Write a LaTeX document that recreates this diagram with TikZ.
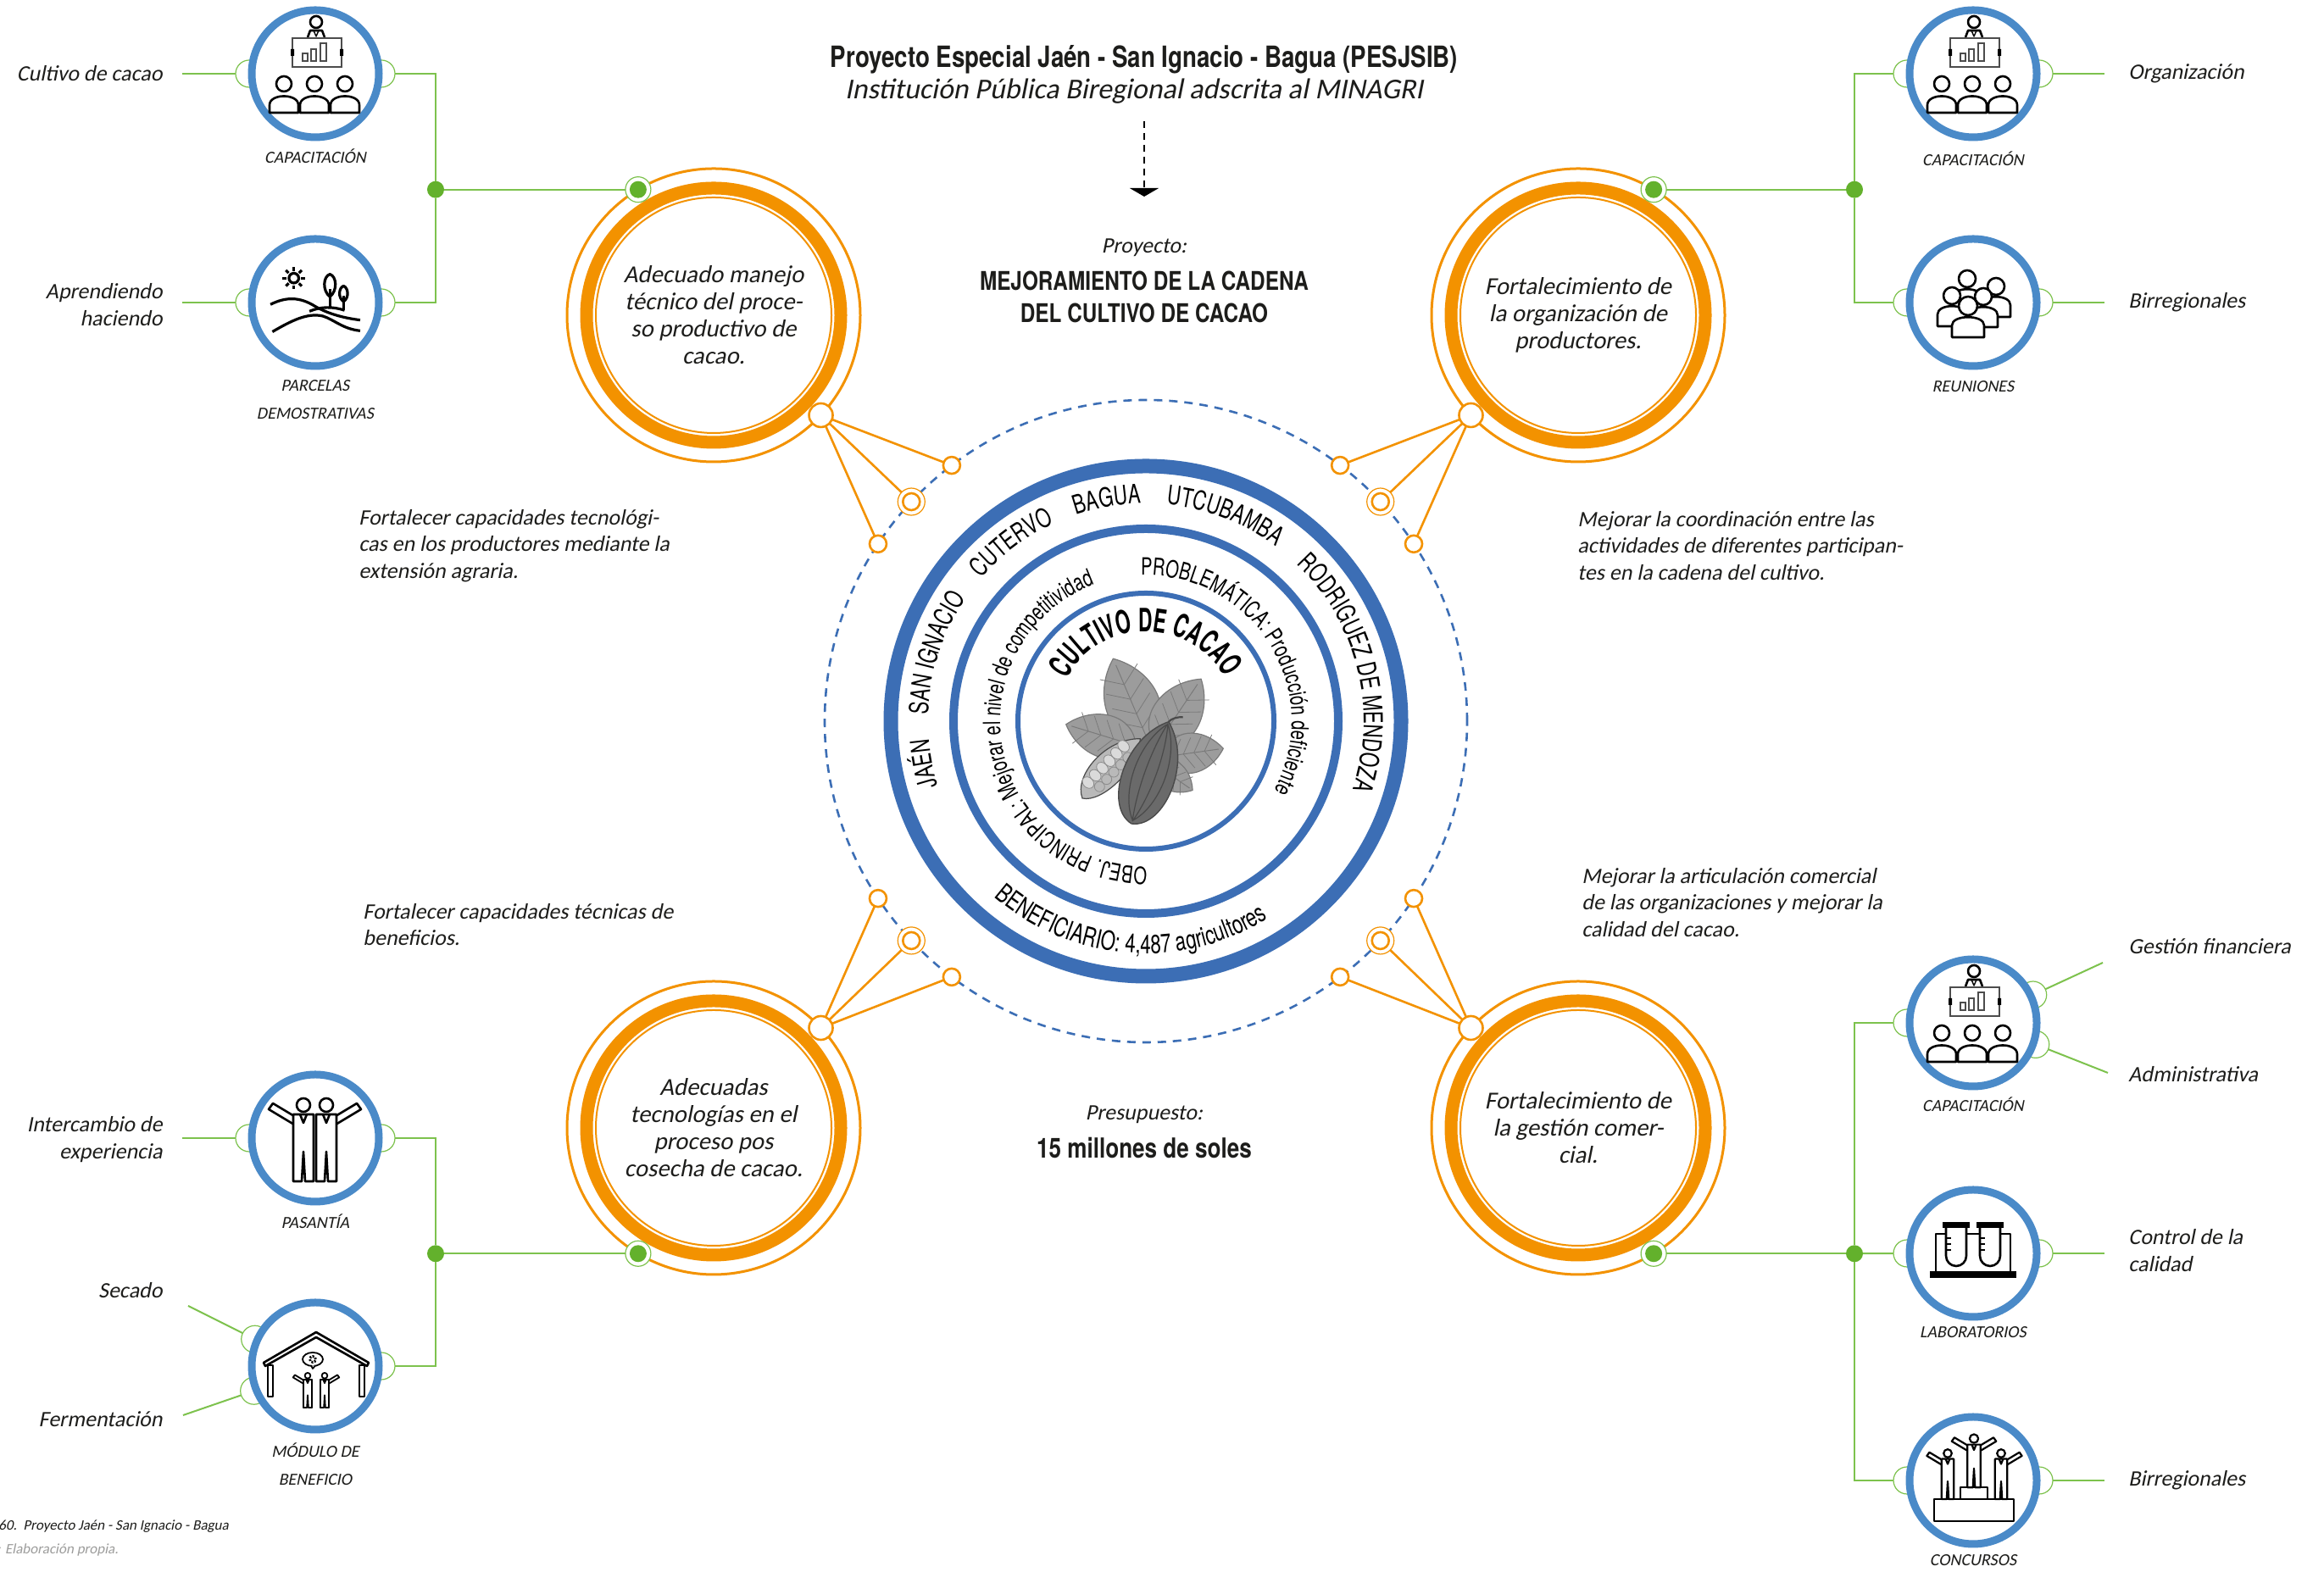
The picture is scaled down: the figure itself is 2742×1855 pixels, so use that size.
\documentclass[tikz,border=0pt]{standalone}
\usepackage{fontspec}
\setmainfont{Carlito}
\newfontfamily\slf[FakeSlant=0.2]{Carlito}
\newfontfamily\hcn[FakeStretch=0.8]{TeX Gyre Heros}
\newfontfamily\hcnc[FakeStretch=0.72]{TeX Gyre Heros}
\newfontfamily\hcnx[FakeStretch=0.6]{TeX Gyre Heros}
\usetikzlibrary{calc,decorations.text,arrows.meta}

\definecolor{orangec}{HTML}{F39200}
\definecolor{iblue}{HTML}{4A8AC8}
\definecolor{cblue}{HTML}{3C6EB5}
\definecolor{gdark}{HTML}{63B12C}
\definecolor{glight}{HTML}{7DC24D}
\definecolor{txt}{HTML}{1D1D1B}
\definecolor{srcgray}{HTML}{9D9D9C}
\definecolor{leafg}{HTML}{9C9C9C}
\definecolor{leafd}{HTML}{7A7A7A}
\definecolor{podl}{HTML}{B9B9B9}
\definecolor{bean}{HTML}{DADADA}
\definecolor{podc}{HTML}{6A6A6A}
\definecolor{podcd}{HTML}{4A4A4A}

\newcommand\iconlw{1.3pt}
\newcommand\cityf{\fontsize{15.5}{15.5}\hcnc}
\newcommand\innerf{\fontsize{14}{14}\hcnc}
\newcommand\cacaof{\fontsize{19}{19}\hcnx\bfseries}

\tikzset{
 iconln/.style={draw=black, line width=\iconlw, line join=round},
 icon/.style={circle, draw=iblue, line width=4.5pt, fill=white, minimum size=75pt, inner sep=0pt, outer sep=0pt},
 port/.style={circle, draw=glight, line width=0.6pt, minimum size=16pt, inner sep=0pt, outer sep=0pt},
 gline/.style={draw=glight, line width=1pt},
 jdot/.style={circle, fill=gdark, minimum size=10pt, inner sep=0pt, outer sep=0pt},
 gdot/.style={circle, draw=glight, line width=0.6pt, fill=white, minimum size=15pt, inner sep=0pt, outer sep=0pt},
 orng/.style={circle, draw=orangec, line width=1.5pt, minimum size=173pt, inner sep=0pt, outer sep=0pt, align=center, text=txt, font=\fontsize{14.4}{16}\slf},
 ocon/.style={circle, draw=orangec, line width=1.3pt, fill=white, minimum size=14pt, inner sep=0pt, outer sep=0pt},
 osm/.style={circle, draw=orangec, line width=1.3pt, fill=white, minimum size=10pt, inner sep=0pt, outer sep=0pt},
 osmd/.style={circle, draw=orangec, line width=0.6pt, fill=white, minimum size=16pt, inner sep=0pt, outer sep=0pt},
 oline/.style={draw=orangec, line width=1.3pt},
 lbl/.style={text=txt, inner sep=0pt, font=\fontsize{13}{16}\slf},
 desc/.style={text=txt, inner sep=0pt, anchor=west, align=left, font=\fontsize{13}{15.75}\slf},
 ilbl/.style={text=txt, inner sep=0pt, align=center, font=\fontsize{10}{16.5}\slf},
 citytext/.style={decorate, decoration={text along path, text align=center, text={|\cityf|#1}}},
}

% presenter with board and audience
\newcommand\iconcap{%
 \draw[iconln, fill=white] (1,61) circle (7);
 \draw[iconln] (-9,43) -- (-6,51) -- (8,51) -- (11,43);
 \draw[iconln, line width=0.7pt] (-2,51) -- (1,44) -- (4,51);
 \draw[draw=black!70, line width=1.1pt, fill=white] (-27,8) rectangle (31,42);
 \fill[black] (-29,21) rectangle (-25,29) (29,21) rectangle (33,29);
 \draw[draw=black!70, line width=0.9pt] (-15,15) rectangle (-9,24) (-5,15) rectangle (1,29) (6,15) rectangle (13,36);
 \foreach \x in {-37,-1,35}{%
  \draw[iconln, fill=white] (\x-17,-46) -- (\x-17,-37) .. controls (\x-17,-23) and (\x+17,-23) .. (\x+17,-37) -- (\x+17,-46) -- cycle;
  \draw[iconln, fill=white] (\x,-12) circle (9);}%
}
% sun, trees and hills
\newcommand\iconparc{%
 \draw[iconln] (-22,25) circle (5);
 \foreach \a in {0,45,...,315}{\draw[iconln] ($(-22,25)+(\a:7.5)$) -- ($(-22,25)+(\a:11.5)$);}
 \draw[iconln, fill=white] (15,6) .. controls (7,12) and (8,27) .. (15,29) .. controls (22,27) and (23,12) .. (15,6) -- cycle;
 \draw[iconln] (15,14) -- (15,-6);
 \draw[iconln, fill=white] (29,1) .. controls (23,5) and (24,15) .. (29,17) .. controls (34,15) and (35,5) .. (29,1) -- cycle;
 \draw[iconln] (29,7) -- (29,-8);
 \draw[iconln] (-46,-2) .. controls (-30,6) and (-16,6) .. (0,-4) .. controls (14,-12) and (30,-16) .. (46,-18);
 \draw[iconln] (-6,-9) .. controls (6,-4) and (18,-4) .. (30,-8);
 \draw[iconln] (-44,-30) .. controls (-25,-19) and (-8,-10) .. (8,-14) .. controls (20,-18) and (28,-27) .. (46,-29);
}
% one person: x, head y, head radius, body half width
\newcommand\pers[4]{%
 \draw[iconln, fill=white] (#1-#4,#2-#3-26) -- (#1-#4,#2-#3-12) .. controls (#1-#4,#2-#3+1) and (#1+#4,#2-#3+1) .. (#1+#4,#2-#3-12) -- (#1+#4,#2-#3-26) -- cycle;
 \draw[iconln, fill=white] (#1,#2) circle (#3);}
\newcommand\iconmeet{%
 \pers{-7}{28}{10}{17}
 \pers{27}{19}{10}{17}
 \pers{-25}{8}{10}{17}
 \pers{12}{7}{10}{17}
 \pers{-6}{-4}{11}{19}}
% man in a suit with a raised arm
\newcommand\smarm{\draw[iconln, fill=white] (-11,22) -- (-36,37) -- (-41,30) -- (-11,12) -- cycle;}
\newcommand\smbody{%
 \draw[iconln, fill=white] (-12,24) -- (-12,-55) -- (-2,-55) -- (0,-20) -- (2,-55) -- (12,-55) -- (12,24) -- cycle;
 \draw[iconln] (-4,24) -- (0,14) -- (4,24);
 \draw[iconln, fill=white] (0,35) circle (8);}
\newcommand\iconpas{%
 \begin{scope}[shift={(-14,4)}]\smarm\smbody\end{scope}
 \begin{scope}[shift={(13,4)}, xscale=-1]\smarm\smbody\end{scope}}
% shed with two workers
\newcommand\iconmod{%
 \draw[iconln, fill=white] (-61,4) -- (1,40) -- (63,4) -- (61,0) -- (1,34) -- (-59,0) -- cycle;
 \draw[iconln, fill=white] (-56,-36) rectangle (-50,1);
 \draw[iconln, fill=white] (52,-36) rectangle (58,1);
 \draw[iconln, line width=0.9pt, fill=white] (-3,8) ellipse (12 and 8);
 \draw[iconln, line width=0.9pt, fill=white] (-5,0.8) -- (-3,-3) -- (0,0.5);
 \draw[black, line width=1.4pt, dash pattern=on 1pt off 0.8pt] (-3,8) circle (3.5);
 \begin{scope}[shift={(-9,-26)}, scale=0.42]\def\iconlw{0.9pt}\smarm\smbody\end{scope}
 \begin{scope}[shift={(11,-26)}, scale=0.42, xscale=-1]\def\iconlw{0.9pt}\smarm\smbody\end{scope}}
% test tubes in a rack
\newcommand\iconlab{%
 \draw[iconln] (-44,-24) -- (-44,23) -- (44,23) -- (44,-24);
 \foreach \x in {-20,20}{%
  \draw[iconln, fill=white] (\x-12,32) -- (\x-12,-3) arc[start angle=180, end angle=360, radius=12] -- (\x+12,32);
  \fill[black] (\x-16,30) rectangle (\x+16,37);
  \draw[iconln, line width=0.9pt] (\x-12,18) -- (\x-6,18) (\x-12,11) -- (\x-6,11) (\x-12,4) -- (\x-6,4);}%
 \fill[black] (-51,-29) rectangle (51,-21);}
% winners on a podium
\newcommand\iconcon{%
 \draw[iconln, fill=white] (-46,-48) rectangle (48,-22);
 \draw[iconln, fill=white] (-15,-22) rectangle (17,-8);
 \begin{scope}[shift={(-30,11)}, scale=0.6]\def\iconlw{1.1pt}\smarm\smbody\end{scope}
 \begin{scope}[shift={(33,11)}, scale=0.6, xscale=-1]\def\iconlw{1.1pt}\smarm\smbody\end{scope}
 \begin{scope}[shift={(1,27)}, scale=0.64]\def\iconlw{1.1pt}\smarm\begin{scope}[xscale=-1]\smarm\end{scope}\smbody\end{scope}}
% cacao leaf: base, angle, length, half width
\newcommand\cleaf[4]{%
 \begin{scope}[shift={#1}, rotate=#2]
  \filldraw[fill=leafg, draw=leafd, line width=0.6pt] (0,0) .. controls (0.15*#3,1.1*#4) and (0.7*#3,1.0*#4) .. (#3,0) .. controls (0.7*#3,-1.0*#4) and (0.15*#3,-1.1*#4) .. (0,0) -- cycle;
  \draw[leafd, line width=0.5pt] (0,0) -- (0.92*#3,0);
  \foreach \t in {0.15,0.32,0.5,0.68}{\draw[leafd, line width=0.4pt] (\t*#3,0) -- (\t*#3+0.16*#3,0.6*#4) (\t*#3,0) -- (\t*#3+0.16*#3,-0.6*#4);}
 \end{scope}}

\begin{document}
\begin{tikzpicture}[x=0.5pt, y=0.5pt]
\useasboundingbox (0,0) rectangle (2742,1855);
\fill[white] (0,0) rectangle (2742,1855);

% ---------- central target ----------
\coordinate (C) at (1352,1004);
\draw[cblue, line width=1.3pt, dash pattern=on 5pt off 4pt] (C) circle (379);
\begin{scope}[shift={(C)}]
 \draw[cblue, line width=8.5pt] (0,0) circle (301);
 \draw[cblue, line width=5pt] (0,0) circle (227);
 \draw[cblue, line width=3pt] (0,0) circle (151);
 \path[citytext=JAÉN] (236:257) arc[start angle=236, end angle=146, radius=257];
 \path[citytext=SAN IGNACIO] (207:257) arc[start angle=207, end angle=117, radius=257];
 \path[citytext=CUTERVO] (172:257) arc[start angle=172, end angle=82, radius=257];
 \path[citytext=BAGUA] (145:257) arc[start angle=145, end angle=55, radius=257];
 \path[citytext=UTCUBAMBA] (114:257) arc[start angle=114, end angle=24, radius=257];
 \path[citytext=RODRIGUEZ DE MENDOZA] (64:257) arc[start angle=64, end angle=-36, radius=257];
 \path[decorate, decoration={text along path, text align=center, text={|\cityf|BENEFICIARIO: 4,487 agricultores}}] (205:274) arc[start angle=205, end angle=326, radius=274];
 \path[decorate, decoration={text along path, text={|\innerf|PROBLEMÁTICA: Producción deficiente}}] (92:172) arc[start angle=92, end angle=-80, radius=172];
 \path[decorate, decoration={text along path, text={|\innerf|OBEJ. PRINCIPAL: Mejorar el nivel de competitividad}}] (270.5:172) arc[start angle=270.5, end angle=60, radius=172];
 \path[decorate, decoration={text along path, text align=center, text={|\cacaof|CULTIVO DE CACAO}}] (180.5:106) arc[start angle=180.5, end angle=0.5, radius=106];
 % cacao leaves and pods
 \cleaf{(2,-22)}{113}{104}{40}
 \cleaf{(12,-29)}{56}{95}{36}
 \cleaf{(22,-42)}{8}{70}{30}
 \cleaf{(10,-50)}{-35}{55}{22}
 \cleaf{(-12,-29)}{163}{86}{32}
 \begin{scope}[shift={(-75,-91)}, rotate=45.8]
  \filldraw[fill=podl, draw=podcd, line width=0.6pt] (0,0) .. controls (12,26) and (70,30) .. (98,0) .. controls (70,-24) and (12,-20) .. (0,0) -- cycle;
  \foreach \i in {0,...,5}{\filldraw[fill=bean, draw=black!45, line width=0.4pt] (18+\i*12,8) ellipse (6 and 7.5);}
  \foreach \i in {0,...,4}{\filldraw[fill=bean!85!black, draw=black!45, line width=0.4pt] (24+\i*12,-5) ellipse (6 and 6);}
 \end{scope}
 \begin{scope}[shift={(-17,-121)}, rotate=70]
  \filldraw[fill=podc, draw=podcd, line width=0.7pt] (0,0) .. controls (8,38) and (92,44) .. (128,0) .. controls (92,-44) and (8,-38) .. (0,0) -- cycle;
  \draw[podcd, line width=0.6pt] (4,0) .. controls (30,24) and (90,26) .. (124,1) (4,0) .. controls (30,-24) and (90,-26) .. (124,-1) (3,0) .. controls (40,8) and (90,8) .. (126,0) (3,0) .. controls (40,-10) and (90,-10) .. (126,0);
  \draw[podcd, line width=1.1pt] (128,0) .. controls (133,-2) and (137,-8) .. (139,-14);
 \end{scope}
\end{scope}

% ---------- four objectives ----------
\node[orng] (TL) at (842,1483) {Adecuado manejo\\técnico del proce-\\so productivo de\\cacao.};
\node[orng] (TR) at (1862,1483) {Fortalecimiento de\\la organización de\\productores.};
\node[orng] (BL) at (842,524) {Adecuadas\\tecnologías en el\\proceso pos\\cosecha de cacao.};
\node[orng] (BR) at (1862,524) {Fortalecimiento de\\la gestión comer-\\cial.};
\foreach \n in {TL,TR,BL,BR}{
 \draw[orangec, line width=7.5pt] (\n) circle (150);
 \draw[orangec, line width=1pt] (\n) circle (139);
}
\node[ocon] (cTL) at (TL.-43) {};
\node[ocon] (cTR) at (TR.223) {};
\node[ocon] (cBL) at (BL.43) {};
\node[ocon] (cBR) at (BR.137) {};
\foreach \q/\a/\b/\c in {TL/127.2/136.9/146.5, TR/52.8/43.1/33.5, BL/232.8/223.1/213.5, BR/307.2/316.9/326.5}{
 \node[osm] (s1\q) at ($(C)+(\a:379)$) {};
 \node[osmd] (s2\q) at ($(C)+(\b:379)$) {};
 \draw[orangec, line width=1.3pt] (s2\q) circle (10);
 \node[osm] (s3\q) at ($(C)+(\c:379)$) {};
 \draw[oline] (c\q) -- (s1\q) (c\q) -- (s2\q) (c\q) -- (s3\q);
}

% green attachment points and junctions
\node[gdot] (gTL) at (TL.121) {}; \fill[gdark] (gTL) circle (10);
\node[gdot] (gTR) at (TR.59) {};  \fill[gdark] (gTR) circle (10);
\node[gdot] (gBL) at (BL.239) {}; \fill[gdark] (gBL) circle (10);
\node[gdot] (gBR) at (BR.301) {}; \fill[gdark] (gBR) circle (10);
\coordinate (xL) at (514,0);
\coordinate (xR) at (2188,0);
\node[jdot] (jTL) at (gTL -| xL) {};
\node[jdot] (jTR) at (gTR -| xR) {};
\node[jdot] (jBL) at (gBL -| xL) {};
\node[jdot] (jBR) at (gBR -| xR) {};

% ---------- activity icons ----------
\coordinate (L1c) at (372,1768);
\coordinate (L2c) at (372,1498);
\coordinate (R1c) at (2328,1768);
\coordinate (R2c) at (2328,1498);
\coordinate (P1c) at (372,512);
\coordinate (P2c) at (372,243);
\coordinate (Q1c) at (2328,648);
\coordinate (Q2c) at (2328,376);
\coordinate (Q3c) at (2328,108);
\foreach \n in {L1,L2,R1,R2,P1,Q2,Q3}{
 \node[port] (\n pl) at ($(\n c)+(-78,0)$) {};
 \node[port] (\n pr) at ($(\n c)+(78,0)$) {};
}
\node[port] (P2pr) at ($(P2c)+(78,0)$) {};
\node[port] (P2pa) at ($(P2c)+(156:78)$) {};
\node[port] (P2pb) at ($(P2c)+(202:78)$) {};
\node[port] (Q1pl) at ($(Q1c)+(-78,0)$) {};
\node[port] (Q1pa) at ($(Q1c)+(25:78)$) {};
\node[port] (Q1pb) at ($(Q1c)+(-19:78)$) {};
\foreach \n in {L1,L2,R1,R2,P1,P2,Q1,Q2,Q3}{\node[icon] (\n) at (\n c) {};}

\begin{scope}[shift={(L1c)}]\iconcap\end{scope}
\begin{scope}[shift={(R1c)}]\iconcap\end{scope}
\begin{scope}[shift={(Q1c)}]\iconcap\end{scope}
\begin{scope}[shift={(L2c)}, scale=1.15]\def\iconlw{1.6pt}\iconparc\end{scope}
\begin{scope}[shift={(R2c)}]\iconmeet\end{scope}
\begin{scope}[shift={(P1c)}]\iconpas\end{scope}
\begin{scope}[shift={(P2c)}]\iconmod\end{scope}
\begin{scope}[shift={(Q2c)}]\iconlab\end{scope}
\begin{scope}[shift={(Q3c)}]\iconcon\end{scope}

\node[ilbl] (kL1) at (372,1671) {CAPACITACIÓN};
\node[ilbl] (kL2) at (372,1383) {PARCELAS\\DEMOSTRATIVAS};
\node[ilbl] (kR1) at (2328,1668) {CAPACITACIÓN};
\node[ilbl] (kR2) at (2328,1399) {REUNIONES};
\node[ilbl] (kP1) at (372,414) {PASANTÍA};
\node[ilbl] (kP2) at (372,127) {MÓDULO DE\\BENEFICIO};
\node[ilbl] (kQ1) at (2328,552) {CAPACITACIÓN};
\node[ilbl] (kQ2) at (2328,283) {LABORATORIOS};
\node[ilbl] (kQ3) at (2328,14) {CONCURSOS};

% ---------- green connectors ----------
\draw[gline] (gTL) -- (jTL);
\draw[gline] (L1pr) -| (jTL) |- (L2pr);
\draw[gline] (gTR) -- (jTR);
\draw[gline] (R1pl) -| (jTR) |- (R2pl);
\draw[gline] (gBL) -- (jBL);
\draw[gline] (P1pr) -| (jBL) |- (P2pr);
\draw[gline] (gBR) -- (jBR);
\draw[gline] (Q1pl) -| (jBR) |- (Q3pl);
\draw[gline] (jBR) -- (Q2pl);

% left labels
\node[lbl, anchor=east] (tCul) at (192,1768) {Cultivo de cacao};
\coordinate (eCul) at (215,1768); \draw[gline] (eCul) -- (L1pl);
\node[lbl, anchor=east, align=right] (tApr) at (192,1495) {Aprendiendo\\haciendo};
\coordinate (eApr) at (215,1498); \draw[gline] (eApr) -- (L2pl);
\node[lbl, anchor=east, align=right] (tInt) at (192,510) {Intercambio de\\experiencia};
\coordinate (eInt) at (215,512); \draw[gline] (eInt) -- (P1pl);
\node[lbl, anchor=east] (tSec) at (192,332) {Secado};
\coordinate (eSec) at (222,314); \draw[gline] (eSec) -- (P2pa);
\node[lbl, anchor=east] (tFer) at (192,180) {Fermentación};
\coordinate (eFer) at (216,185); \draw[gline] (eFer) -- (P2pb);

% right labels
\node[lbl, anchor=west] (tOrg) at (2511,1768) {Organización};
\coordinate (eOrg) at (2483,1768); \draw[gline] (R1pr) -- (eOrg);
\node[lbl, anchor=west] (tBir1) at (2511,1498) {Birregionales};
\coordinate (eBir1) at (2483,1498); \draw[gline] (R2pr) -- (eBir1);
\node[lbl, anchor=west] (tGes) at (2511,738) {Gestión financiera};
\coordinate (eGes) at (2481,719); \draw[gline] (Q1pa) -- (eGes);
\node[lbl, anchor=west] (tAdm) at (2511,587) {Administrativa};
\coordinate (eAdm) at (2487,589); \draw[gline] (Q1pb) -- (eAdm);
\node[lbl, anchor=west, align=left] (tCon) at (2511,379) {Control de la\\calidad};
\coordinate (eCon) at (2483,376); \draw[gline] (Q2pr) -- (eCon);
\node[lbl, anchor=west] (tBir2) at (2511,108) {Birregionales};
\coordinate (eBir2) at (2483,108); \draw[gline] (Q3pr) -- (eBir2);

% ---------- descriptions ----------
\node[desc] (dTL) at (423,1211) {Fortalecer capacidades tecnológi-\\cas en los productores mediante la\\extensión agraria.};
\node[desc] (dTR) at (1861,1211) {Mejorar la coordinación entre las\\actividades de diferentes participan-\\tes en la cadena del cultivo.};
\node[desc] (dBL) at (428,764) {Fortalecer capacidades técnicas de\\beneficios.};
\node[desc] (dBR) at (1866,790) {Mejorar la articulación comercial\\de las organizaciones y mejorar la\\calidad del cacao.};

% ---------- headings ----------
\node[text=txt, font=\fontsize{17.3}{20}\hcn\bfseries] (title) at (1350,1785) {Proyecto Especial Jaén - San Ignacio - Bagua (PESJSIB)};
\node[text=txt, font=\fontsize{17}{20}\slf] (sub) at (1338,1747) {Institución Pública Biregional adscrita al MINAGRI};
\coordinate (a1) at (1350,1712);
\coordinate (a2) at (1350,1623);
\draw[black, line width=1.2pt, dash pattern=on 4pt off 3pt, -{Triangle[width=17pt,length=5pt]}] (a1) -- (a2);
\node[text=txt, font=\fontsize{13}{15}\slf] (pro) at (1350,1563) {Proyecto:};
\node[text=txt, align=center, font=\fontsize{15.2}{19}\hcn\bfseries] (proj) at (1350,1505) {MEJORAMIENTO DE LA CADENA\\DEL CULTIVO DE CACAO};
\node[text=txt, font=\fontsize{13}{15}\slf] (pre) at (1350,540) {Presupuesto:};
\node[text=txt, font=\fontsize{16.3}{20}\hcn\bfseries] (bud) at (1350,500) {15 millones de soles};

% ---------- source note ----------
\node[anchor=west, inner sep=0pt, text=txt, font=\fontsize{8.5}{10}\slf] (fig) at (-2,54) {60.\ \ Proyecto Jaén - San Ignacio - Bagua};
\node[anchor=west, inner sep=0pt, text=srcgray, font=\fontsize{8.5}{10}\slf] (src) at (-4,26) {: Elaboración propia.};
\end{tikzpicture}
\end{document}
